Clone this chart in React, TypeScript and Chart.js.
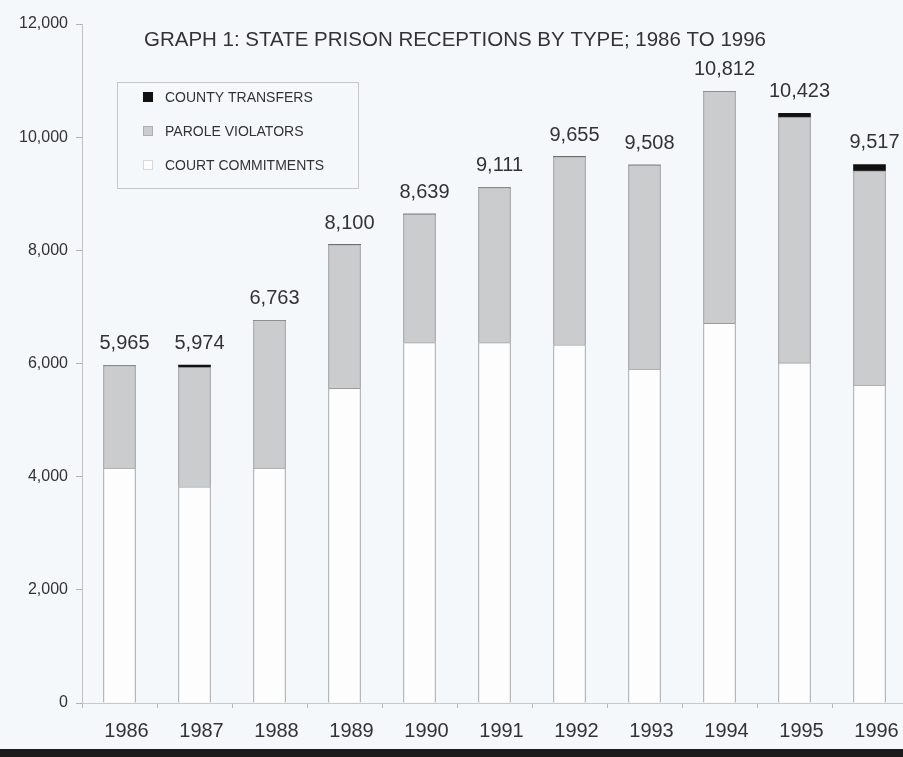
import React, { useEffect, useRef } from "react";
import { Chart, registerables } from "chart.js";

Chart.register(...registerables);

// ---- data ----
const YEARS = ["1986", "1987", "1988", "1989", "1990", "1991", "1992", "1993", "1994", "1995", "1996"];
const COURT_COMMITMENTS = [4150, 3820, 4150, 5560, 6370, 6370, 6330, 5900, 6710, 6010, 5620];
const PAROLE_VIOLATORS = [1815, 2114, 2613, 2540, 2269, 2741, 3325, 3608, 4102, 4343, 3787];
const COUNTY_TRANSFERS = [0, 40, 0, 0, 0, 0, 0, 0, 0, 70, 110];
const TOTALS = [5965, 5974, 6763, 8100, 8639, 9111, 9655, 9508, 10812, 10423, 9517];
const TITLE = "GRAPH 1: STATE PRISON RECEPTIONS BY TYPE; 1986 TO 1996";
const Y_MIN = 0;
const Y_MAX = 12000;
const Y_STEP = 2000;

const BG = "#f4f8fb";
const TEXT = "#333333";
const FONT = "'Liberation Sans', Arial, sans-serif";

const CANVAS_W = 912;
const CANVAS_H = 749;

const bgPlugin = {
  id: "bg",
  beforeDraw(chart: any) {
    const ctx = chart.ctx;
    ctx.save();
    ctx.fillStyle = BG;
    ctx.fillRect(0, 0, chart.width, chart.height);
    ctx.restore();
  },
};

const titlePlugin = {
  id: "insideTitle",
  afterDraw(chart: any) {
    const ctx = chart.ctx;
    const a = chart.chartArea;
    ctx.save();
    ctx.font = `20.5px ${FONT}`;
    ctx.fillStyle = TEXT;
    ctx.textAlign = "center";
    ctx.textBaseline = "middle";
    ctx.fillText(TITLE, a.left + 373, a.top + 16);
    ctx.restore();
  },
};

const legendPlugin = {
  id: "insideLegend",
  afterDraw(chart: any) {
    const ctx = chart.ctx;
    const a = chart.chartArea;
    const x0 = a.left + 35;
    const y0 = a.top + 58;
    const w = 241;
    const h = 106;
    ctx.save();
    ctx.fillStyle = BG;
    ctx.fillRect(x0, y0, w, h);
    ctx.strokeStyle = "#c4c6c8";
    ctx.lineWidth = 1;
    ctx.strokeRect(x0 + 0.5, y0 + 0.5, w, h);
    const ds = chart.data.datasets.slice().reverse();
    ds.forEach((d: any, i: number) => {
      const cy = y0 + 15 + i * 34;
      ctx.fillStyle = d.backgroundColor;
      ctx.fillRect(x0 + 26, cy - 5, 10, 10);
      ctx.strokeStyle = d.legendBorder;
      ctx.strokeRect(x0 + 26.5, cy - 4.5, 9, 9);
      ctx.fillStyle = TEXT;
      ctx.font = `14px ${FONT}`;
      ctx.textAlign = "left";
      ctx.textBaseline = "middle";
      ctx.fillText(d.label, x0 + 48, cy + 1);
    });
    ctx.restore();
  },
};

const totalsPlugin = {
  id: "totals",
  afterDatasetsDraw(chart: any) {
    const ctx = chart.ctx;
    const yScale = chart.scales.y;
    const meta = chart.getDatasetMeta(0);
    ctx.save();
    ctx.font = `20px ${FONT}`;
    ctx.fillStyle = TEXT;
    ctx.textAlign = "center";
    ctx.textBaseline = "alphabetic";
    TOTALS.forEach((t, i) => {
      const x = meta.data[i].x;
      const y = yScale.getPixelForValue(t);
      ctx.fillText(t.toLocaleString("en-US"), x + 5, y - 16);
    });
    ctx.restore();
  },
};

export default function App() {
  const ref = useRef<HTMLCanvasElement | null>(null);

  useEffect(() => {
    document.body.style.margin = "0";
    document.body.style.overflow = "hidden";
    if (!ref.current) return;
    const chart = new Chart(ref.current, {
      type: "bar",
      data: {
        labels: YEARS,
        datasets: [
          {
            label: "COURT COMMITMENTS",
            data: COURT_COMMITMENTS,
            backgroundColor: "#fdfdfd",
            borderColor: "#9a9a9a",
            borderWidth: 1,
            legendBorder: "#d8d8d8",
          } as any,
          {
            label: "PAROLE VIOLATORS",
            data: PAROLE_VIOLATORS,
            backgroundColor: "#cbcccd",
            borderColor: "#8e8e8e",
            borderWidth: 1,
            legendBorder: "#b0b0b0",
          } as any,
          {
            label: "COUNTY TRANSFERS",
            data: COUNTY_TRANSFERS,
            backgroundColor: "#111111",
            borderColor: "#111111",
            borderWidth: 0,
            legendBorder: "#111111",
          } as any,
        ],
      },
      options: {
        responsive: false,
        animation: false,
        maintainAspectRatio: false,
        layout: { padding: { left: 0, right: CANVAS_W - 907, top: 24, bottom: 0 } },
        plugins: {
          legend: { display: false },
          title: { display: false },
          tooltip: { enabled: false },
        },
        datasets: { bar: { barThickness: 32 } } as any,
        scales: {
          x: {
            stacked: true,
            grid: {
              display: true,
              drawOnChartArea: false,
              tickLength: 5,
              color: "#b8b8b8",
              offset: true,
            },
            border: { display: true, color: "#c8c8c8" },
            ticks: {
              color: TEXT,
              font: { family: FONT, size: 20 },
              padding: 11,
              labelOffset: 7,
              maxRotation: 0,
            },
            afterFit(scale: any) {
              scale.height = CANVAS_H - 703;
            },
          },
          y: {
            stacked: true,
            min: Y_MIN,
            max: Y_MAX,
            grid: {
              display: true,
              drawOnChartArea: false,
              tickLength: 6,
              color: "#b0b0b0",
            },
            border: { display: true, color: "#c0c0c0" },
            ticks: {
              stepSize: Y_STEP,
              color: TEXT,
              font: { family: FONT, size: 16 },
              padding: 8,
              callback: (v: any) => Number(v).toLocaleString("en-US"),
            },
            afterFit(scale: any) {
              scale.width = 82;
            },
          },
        },
      },
      plugins: [bgPlugin, titlePlugin, legendPlugin, totalsPlugin],
    });
    return () => chart.destroy();
  }, []);

  return (
    <div style={{ width: 903, height: 757, overflow: "hidden", position: "relative", background: BG }}>
      <canvas ref={ref} width={CANVAS_W} height={CANVAS_H} style={{ display: "block", width: CANVAS_W, height: CANVAS_H }} />
      <div style={{ position: "absolute", left: 0, top: CANVAS_H, width: 903, height: 757 - CANVAS_H, background: "#1c1c1c" }} />
    </div>
  );
}
